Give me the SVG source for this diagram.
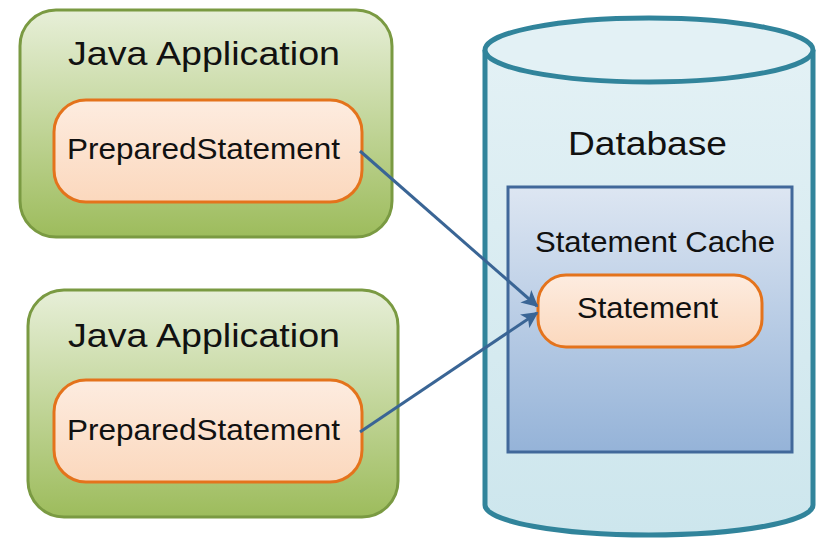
<svg xmlns="http://www.w3.org/2000/svg" width="817" height="538" viewBox="0 0 817 538">
<defs>
<linearGradient id="gGreen" x1="0" y1="0" x2="0" y2="1"><stop offset="0" stop-color="#e7efd8"/><stop offset="1" stop-color="#9dbc5c"/></linearGradient>
<linearGradient id="gOrange" x1="0" y1="0" x2="0" y2="1"><stop offset="0" stop-color="#fdece0"/><stop offset="1" stop-color="#fbd8bd"/></linearGradient>
<linearGradient id="gCyl" x1="0" y1="0" x2="0" y2="1"><stop offset="0" stop-color="#e3f1f5"/><stop offset="1" stop-color="#cde6ed"/></linearGradient>
<linearGradient id="gBlue" x1="0" y1="0" x2="0" y2="1"><stop offset="0" stop-color="#dde6f2"/><stop offset="1" stop-color="#95b3d8"/></linearGradient>
<marker id="arr" viewBox="0 0 10 10" refX="9" refY="5" markerWidth="5.5" markerHeight="5.5" orient="auto" markerUnits="strokeWidth">
<path d="M0,0 L10,5 L0,10 L2.5,5 Z" fill="#3a6595"/>
</marker>
<style>
.app{fill:url(#gGreen);stroke:#7a9a42;stroke-width:3}
.ps{fill:url(#gOrange);stroke:#e4731c;stroke-width:3}
.t{font-family:"Liberation Sans",Arial,sans-serif;fill:#111;text-anchor:start}
.big{font-size:33px}
.mid{font-size:30px}
.conn{stroke:#3a6595;stroke-width:3;fill:none}
</style>
</defs>

<g id="database">
<path d="M485,50 L485,505 A164,30 0 0 0 813,505 L813,50" fill="url(#gCyl)" stroke="#31849b" stroke-width="5"/>
<ellipse cx="649" cy="50" rx="164" ry="32" fill="#e3f1f5" stroke="#31849b" stroke-width="5"/>
<text class="t big" x="568" y="155" textLength="159" lengthAdjust="spacingAndGlyphs">Database</text>
</g>

<g id="cache">
<rect x="508" y="187" width="284" height="265" fill="url(#gBlue)" stroke="#41689a" stroke-width="3"/>
<text class="t mid" x="535" y="252" textLength="240" lengthAdjust="spacingAndGlyphs">Statement Cache</text>
</g>

<g id="statement">
<rect x="538" y="275" width="224" height="72" rx="28" ry="28" class="ps"/>
<text class="t mid" x="577" y="318" textLength="141" lengthAdjust="spacingAndGlyphs">Statement</text>
</g>

<g id="app1">
<rect x="20" y="10" width="372" height="227" rx="36" ry="36" class="app"/>
<text class="t big" x="68" y="65" textLength="272" lengthAdjust="spacingAndGlyphs">Java Application</text>
</g>
<g id="ps1">
<rect x="54" y="100" width="308" height="102" rx="32" ry="32" class="ps"/>
<text class="t mid" x="67" y="159" textLength="273" lengthAdjust="spacingAndGlyphs">PreparedStatement</text>
</g>

<g id="app2">
<rect x="28" y="290" width="370" height="227" rx="36" ry="36" class="app"/>
<text class="t big" x="68" y="347" textLength="272" lengthAdjust="spacingAndGlyphs">Java Application</text>
</g>
<g id="ps2">
<rect x="54" y="380" width="308" height="102" rx="32" ry="32" class="ps"/>
<text class="t mid" x="67" y="440" textLength="273" lengthAdjust="spacingAndGlyphs">PreparedStatement</text>
</g>

<g id="connectors">
<line class="conn" x1="360" y1="151" x2="537" y2="306" marker-end="url(#arr)"/>
<line class="conn" x1="360" y1="432" x2="537" y2="313" marker-end="url(#arr)"/>
</g>
</svg>
